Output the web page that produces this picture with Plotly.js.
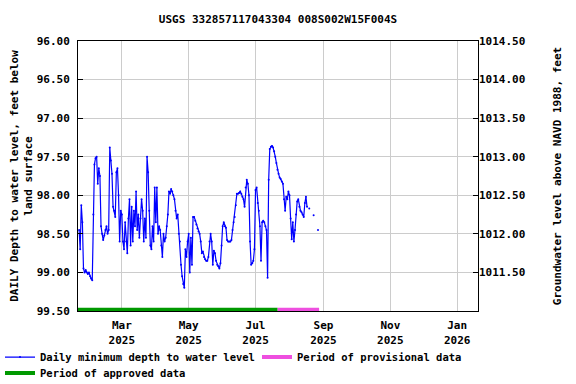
<!DOCTYPE html>
<html>
<head>
<meta charset="utf-8">
<script src="https://cdn.plot.ly/plotly-3.0.1.min.js"></script>
<style>
  body { margin:0; padding:0; background:#ffffff; }
  #myDiv { width:576px; height:384px; }
</style>
</head>
<body>
<div id="myDiv"></div>
<script>
// daily minimum depth to water, feet below land surface, first day 2025-01-21
const start_day = '2025-01-21';
const depth_vals = [
  98.45, 98.70, 98.13, 98.35, 98.95, 99.00, 98.97, 99.00, 99.02, 99.00,
  99.05, 99.08, 99.10, 98.25, 97.60, 97.52, 97.50, 97.85, 97.65, 97.75,
  98.40, 98.50, 98.58, 98.52, 98.45, 98.40, 98.50, 98.45, 97.38, 97.55,
  97.72, 98.15, 98.20, 98.28, 97.70, 97.65, 98.00, 98.60, 98.20, 98.25,
  98.60, 98.70, 98.35, 98.60, 98.75, 98.30, 98.05, 98.65, 98.15, 98.60,
  98.20, 98.40, 97.95, 98.45, 98.25, 98.55, 98.30, 98.05, 98.20, 98.60,
  98.30, 98.55, 97.50, 97.70, 98.20, 98.65, 98.70, 98.40, 98.60, 97.90,
  98.35, 97.90, 98.50, 98.40, 98.45, 98.65, 98.80, 98.50, 98.60, 98.55,
  98.40, 98.25, 97.95, 97.98, 97.92, 97.95, 98.00, 98.05, 98.20, 98.30,
  98.25, 98.50, 98.60, 98.90, 99.05, 99.15, 99.20, 98.70, 98.80, 98.60,
  98.50, 99.00, 98.55, 98.90, 98.28, 98.28, 98.33, 98.38, 98.43, 98.47,
  98.50, 98.60, 98.75, 98.73, 98.80, 98.83, 98.85, 98.85, 98.80, 98.60,
  98.50, 98.60, 98.90, 98.72, 98.75, 98.85, 98.90, 98.92, 98.95, 98.88,
  98.65, 98.40, 98.35, 98.40, 98.42, 98.58, 98.60, 98.60, 98.60, 98.58,
  98.45, 98.35, 98.28, 98.13, 97.98, 97.98, 97.97, 97.95, 97.98, 98.02,
  98.05, 98.15, 97.90, 97.80, 97.85, 98.00, 98.60, 98.90, 98.88, 98.85,
  98.70, 97.93, 97.90, 98.10, 98.20, 98.40, 98.85, 98.35, 98.33, 98.35,
  98.40, 98.45, 99.07, 97.80, 97.40, 97.37, 97.36, 97.38, 97.43, 97.50,
  97.58, 97.67, 97.72, 97.77, 97.79, 97.82, 97.85, 98.05, 98.20, 98.02,
  98.05, 97.95, 98.00, 98.30, 98.57, 98.35, 98.60, 98.45, 98.25, 98.08,
  98.05, 98.15, 98.20, 98.22, 98.25, 98.28, 98.10, 98.02, 98.15, null,
  98.17, null, null, null, 98.26, null, null, null, 98.45
];

// approval periods
const approved_dates = ['2025-01-20', '2025-07-21'];
const provisional_dates = ['2025-07-21', '2025-08-28'];
const period_level = 99.485;

// land surface datum, feet above NAVD 1988
const land_surface = 1110.5;

const left_ticks = [96.0, 96.5, 97.0, 97.5, 98.0, 98.5, 99.0, 99.5];
const right_ticks = [1011.5, 1012.0, 1012.5, 1013.0, 1013.5, 1014.0, 1014.5];

function build_dates(first, n) {
  let out = [];
  let t0 = new Date(first + 'T00:00:00Z').getTime();
  for (let i = 0; i < n; i++) {
    out.push(new Date(t0 + i * 86400000).toISOString().slice(0, 10));
  }
  return out;
}

function plot_gw() {
  let fnt = { family: 'DejaVu Sans Mono', size: 11, color: '#000000', weight: 'bold' };
  let lfnt = { family: 'DejaVu Sans Mono', size: 10.5, color: '#000000', weight: 'bold' };

  let depth_dates = build_dates(start_day, depth_vals.length);

  let traceDepth = { x: depth_dates,
                     y: depth_vals,
                     name: 'Daily minimum depth to water level',
                     mode: 'lines+markers',
                     line: { color: '#0000ff', width: 1.2 },
                     marker: { color: '#0000ff', size: 2 },
                     connectgaps: false,
                     legend: 'legend',
                     legendwidth: 212,
                     type: 'scatter' };

  let traceProv = { x: provisional_dates,
                    y: [period_level, period_level],
                    name: 'Period of provisional data',
                    mode: 'lines',
                    line: { color: '#ee4fdf', width: 4 },
                    legend: 'legend',
                    type: 'scatter' };

  let traceAppr = { x: approved_dates,
                    y: [period_level, period_level],
                    name: 'Period of approved data',
                    mode: 'lines',
                    line: { color: '#009900', width: 4 },
                    legend: 'legend2',
                    type: 'scatter' };

  let traceRight = { x: [], y: [], yaxis: 'y2', showlegend: false, type: 'scatter' };

  let data = [traceDepth, traceProv, traceAppr, traceRight];

  let layout = {
    width: 576,
    height: 384,
    paper_bgcolor: '#ffffff',
    plot_bgcolor: '#ffffff',
    font: fnt,
    title: { text: 'USGS 332857117043304 008S002W15F004S',
             font: fnt, x: 0.5, xref: 'paper', y: 1 - 19/384, yref: 'container', yanchor: 'middle' },
    margin: { l: 78, r: 98, t: 41, b: 73, autoexpand: false },
    showlegend: true,
    legend: { orientation: 'h', x: -0.195, xanchor: 'left', y: -0.117, yanchor: 'top',
              bgcolor: 'rgba(0,0,0,0)', font: lfnt, tracegroupgap: 0, itemwidth: 30 },
    legend2: { orientation: 'h', x: -0.195, xanchor: 'left', y: -0.176, yanchor: 'top',
               bgcolor: 'rgba(0,0,0,0)', font: lfnt, tracegroupgap: 0, itemwidth: 30 },
    xaxis: {
      range: ['2025-01-20', '2026-01-20'],
      tickmode: 'linear',
      tick0: '2025-01-01',
      dtick: 'M2',
      tickformat: '%b<br>%Y',
      ticks: '',
      ticklabelstandoff: 4,
      showgrid: true,
      gridcolor: '#cccccc',
      gridwidth: 1,
      zeroline: false,
      showline: true,
      mirror: true,
      linecolor: '#000000',
      linewidth: 1,
      tickfont: fnt
    },
    yaxis: {
      title: { text: 'DAILY Depth to water level, feet below<br>land surface', font: fnt, standoff: 1 },
      range: [99.5, 96.0],
      tickmode: 'array',
      tickvals: left_ticks,
      tickformat: '.2f',
      ticks: 'inside',
      ticklen: 5,
      tickcolor: '#000000',
      ticklabelstandoff: 5,
      showgrid: true,
      gridcolor: '#cccccc',
      gridwidth: 1,
      zeroline: false,
      showline: true,
      mirror: true,
      linecolor: '#000000',
      linewidth: 1,
      tickfont: fnt
    },
    yaxis2: {
      title: { text: 'Groundwater level above NAVD 1988, feet', font: fnt, standoff: 28 },
      overlaying: 'y',
      side: 'right',
      range: [land_surface - 99.5, land_surface - 96.0],
      tickmode: 'array',
      tickvals: right_ticks,
      tickformat: '.2f',
      ticks: 'inside',
      ticklen: 5,
      tickcolor: '#000000',
      showgrid: false,
      zeroline: false,
      showline: false,
      tickfont: fnt
    }
  };

  let config = { displayModeBar: false, staticPlot: true };

  Plotly.newPlot('myDiv', data, layout, config);
}

plot_gw();
</script>
</body>
</html>
